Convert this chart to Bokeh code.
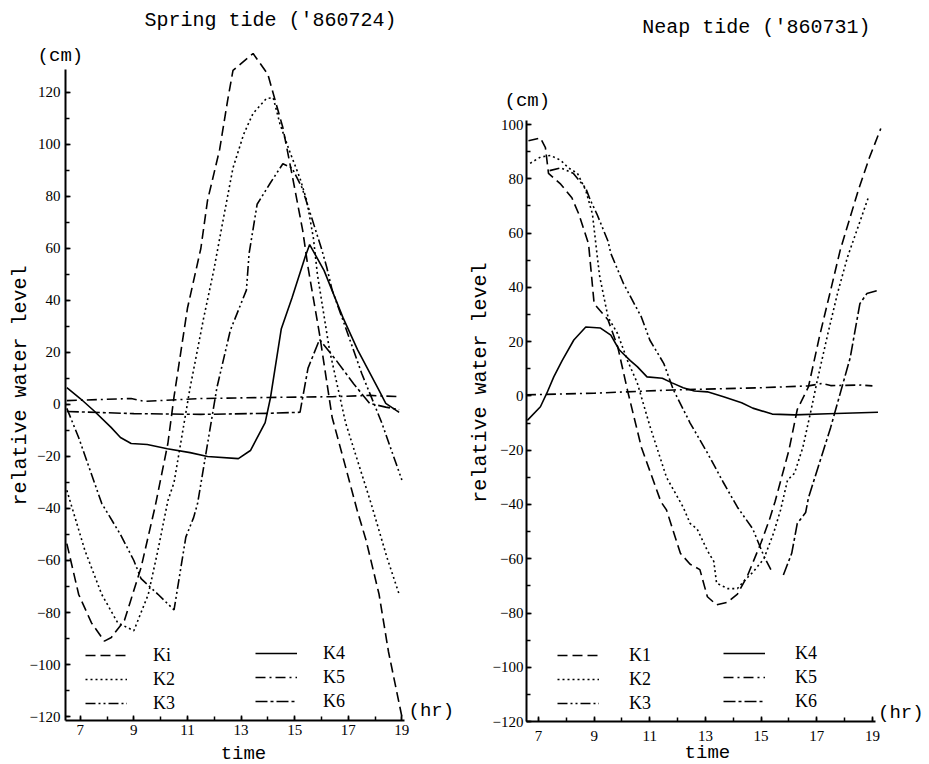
import math
from bokeh.plotting import figure
from bokeh.models import Legend, LegendItem, Label, FixedTicker, Range1d, LinearAxis
from bokeh.layouts import row
from bokeh.embed import file_html
from bokeh.resources import INLINE

# ---------------- data: spring tide ('860724) ----------------
sp_k1_t = [6.5, 6.94, 7.42, 7.9, 8.16, 8.65, 9.27, 9.8, 10.27, 10.5, 11.0, 11.5, 11.75, 12.2, 12.5, 12.7,
           13.45, 14.0, 14.56, 14.93, 15.3, 15.5, 15.93, 16.4, 16.9, 17.34, 17.66, 18.15, 18.5, 19.0]
sp_k1_v = [-53.5, -73, -84, -91, -89.6, -83, -62.7, -39, -15, 3, 37, 60, 78.5, 98, 117, 128.5,
           135, 127, 106.5, 87, 67, 52.7, 27, -5, -24, -41, -52, -73, -95, -120]

sp_k2_t = [6.5, 7.17, 7.8, 8.4, 8.8, 9.0, 9.54, 9.9, 10.27, 10.5, 11.1, 11.6, 11.98, 12.35, 12.7, 13.1,
           13.45, 13.95, 14.2, 14.45, 14.8, 15.2, 15.45, 15.7, 15.85, 16.3, 16.9, 17.85, 18.45, 18.9]
sp_k2_v = [-33, -56, -73, -84, -86, -87, -73, -56, -37, -30, 6.5, 33, 51.5, 72, 91, 104,
           112, 117.7, 118, 108, 97.7, 87, 78.5, 64, 50, 21, -7, -38, -59, -73]

sp_k3_t = [6.5, 6.94, 7.8, 8.5, 9.0, 9.27, 9.9, 10.5, 10.94, 11.23, 11.38, 12.1, 12.6, 13.2, 13.3, 13.6,
           14.08, 14.56, 14.9, 15.27, 15.63, 16.0, 16.2, 16.4, 16.9, 17.5, 18.25, 19.0]
sp_k3_v = [-1.5, -12.7, -38, -50, -60, -67, -73, -79, -51, -43.5, -38, 6.5, 28.5, 44, 58, 77,
           85, 92.6, 91, 83.5, 72, 60, 52.7, 44, 29.6, 12, -7, -29]

sp_k4_t = [6.5, 7.0, 7.5, 8.15, 8.5, 8.9, 9.5, 10.25, 11.1, 11.75, 12.9, 13.35, 13.9, 14.1, 14.5, 14.9,
           15.4, 15.56, 16.1, 16.8, 17.35, 18.15, 18.4, 18.9]
sp_k4_v = [6.5, 2.3, -2.3, -8.8, -12.7, -15, -15.4, -17, -18.5, -20, -20.8, -17.7, -7, 2.7, 29, 41,
           57, 61.5, 51.5, 33.5, 21, 5.4, 0.4, -3]

sp_k5_t = [6.5, 8.9, 9.4, 11.5, 14.0, 16.4, 17.8, 18.9]
sp_k5_v = [1.5, 2.3, 1.2, 2.3, 2.7, 3.0, 3.5, 3.0]

sp_k6_t = [6.5, 9.0, 11.5, 14.0, 15.2, 15.5, 15.93, 16.55, 17.2, 17.8, 18.4, 18.9]
sp_k6_v = [-2.7, -3.5, -3.8, -3.4, -3.0, 14, 25, 17, 8, 0.4, -1, -2]

# ---------------- data: neap tide ('860731) ----------------
np_k1_t = [6.64, 7.07, 7.25, 7.36, 7.8, 8.2, 8.45, 8.8, 9.0, 9.5, 9.85, 10.2, 10.7, 11.4, 11.6, 12.1,
           12.45, 12.8, 13.07, 13.4, 13.8, 14.15, 14.5, 15.0, 15.3, 15.5, 16.0, 16.3, 16.7, 17.1,
           17.5, 17.85, 18.5, 18.9, 19.3]
np_k1_v = [94, 95, 91.5, 82, 78, 73, 67, 56, 34, 28, 18, 2, -19, -39, -42, -58,
           -62, -64, -74, -77, -76, -73, -66.5, -54, -45.6, -39, -20, -5, 3.3, 22,
           39, 54, 76, 88, 98.5]

np_k2_t = [6.7, 7.07, 7.43, 7.8, 8.08, 8.4, 8.7, 8.94, 9.1, 9.2, 9.5, 9.84, 10.2, 10.55, 11.0, 11.6,
           12.2, 12.45, 12.7, 13.07, 13.3, 13.4, 13.8, 14.15, 14.4, 14.7, 15.1, 15.45, 15.7, 15.95,
           16.2, 16.5, 16.8, 17.0, 17.4, 17.75, 18.1, 18.85]
np_k2_v = [85.7, 88, 88.6, 86.8, 84, 82, 75.7, 67, 52.5, 44, 29, 23, 13, 4.8, -11, -30,
           -41, -47, -49, -57, -61, -69, -71, -71, -68, -65, -60, -50.5, -42, -31,
           -28.5, -19, -5, 4.8, 23, 38, 51, 73]

np_k3_t = [7.4, 7.8, 8.25, 8.7, 8.87, 9.1, 9.5, 9.6, 10.05, 10.7, 11.0, 11.5, 11.85, 12.45, 13.07, 13.65,
           14.15, 14.7, 15.1, 15.4]
np_k3_v = [83, 84, 82, 76.5, 72, 67, 57, 52.5, 41.5, 29, 20.6, 12, 2.2, -10, -21, -32,
           -41, -49, -59, -65]

np_k4_t = [6.6, 7.07, 7.3, 7.55, 7.85, 8.27, 8.7, 9.23, 9.6, 9.9, 10.3, 10.55, 10.9, 11.45, 11.8, 12.2,
           12.6, 13.07, 13.65, 14.3, 14.7, 15.4, 16.2, 17.4, 19.2]
np_k4_v = [-9, -4, 1, 7, 13, 20.6, 25.4, 25, 22.4, 17, 13, 10.8, 7, 6.5, 4.8, 3,
           1.8, 1.5, -0.3, -2.5, -4.5, -6.7, -7, -6.6, -6]

np_k5_t = [6.55, 9.0, 11.85, 15.0, 16.7, 17.2, 17.5, 18.6, 19.0]
np_k5_v = [0.4, 1.0, 2.2, 3.0, 3.7, 4.6, 3.8, 4.0, 3.7]

np_k6_t = [15.8, 16.1, 16.3, 16.6, 16.7, 17.5, 18.2, 18.55, 18.8, 19.25]
np_k6_v = [-66, -58, -47, -43, -37.6, -11.6, 14, 34, 37.7, 39]

# ---------------- ticks and labels ----------------
x_major = [7, 9, 11, 13, 15, 17, 19]
x_minor = list(range(7, 20))
sp_y_major = list(range(-120, 121, 20))
sp_y_minor = list(range(-120, 130, 10))
np_y_major = list(range(-120, 101, 20))
np_y_minor = list(range(-120, 101, 10))

sp_labels = ["Ki", "K2", "K3", "K4", "K5", "K6"]
np_labels = ["K1", "K2", "K3", "K4", "K5", "K6"]

SERIF = "Liberation Serif"
MONO = "Liberation Mono"
DASHES = ["10 5", "2 3", "10 3 2 3 2 3", "solid", "10 4 2 4", "12 3 3 3"]
H = 764


def ylab(v):
    return ("\u2212" + str(abs(v))) if v < 0 else str(v)


def make_panel(width, xr, yr, xloc, yloc, xb, yb, ymaj, ymin, xstand, ystand):
    p = figure(width=width, height=H, x_range=Range1d(*xr), y_range=Range1d(*yr),
               output_backend="svg", toolbar_location=None,
               x_axis_location=None, y_axis_location=None,
               min_border_left=0, min_border_right=0, min_border_top=0, min_border_bottom=0)
    p.xgrid.visible = False
    p.ygrid.visible = False
    p.outline_line_color = None
    p.background_fill_color = "white"
    p.border_fill_color = "white"
    xa = LinearAxis(ticker=FixedTicker(ticks=x_major, minor_ticks=x_minor),
                    fixed_location=xloc, bounds=xb)
    ya = LinearAxis(ticker=FixedTicker(ticks=ymaj, minor_ticks=ymin),
                    fixed_location=yloc, bounds=yb,
                    major_label_overrides={v: ylab(v) for v in ymaj})
    for ax in (xa, ya):
        ax.axis_line_width = 2
        ax.axis_line_color = "black"
        ax.major_tick_in = 5
        ax.major_tick_out = 0
        ax.minor_tick_in = 4
        ax.minor_tick_out = 0
        ax.major_tick_line_color = "black"
        ax.minor_tick_line_color = "black"
        ax.major_tick_line_width = 1.5
        ax.minor_tick_line_width = 1.5
        ax.major_label_text_font = SERIF
        ax.major_label_text_font_size = "15px"
        ax.major_label_text_color = "black"
    xa.major_label_standoff = xstand
    ya.major_label_standoff = ystand
    p.add_layout(xa, "below")
    p.add_layout(ya, "left")
    return p


def add_series(p, series):
    rs = []
    for (t, v), dash in zip(series, DASHES):
        rs.append(p.line(t, v, line_color="black", line_width=1.6, line_dash=dash))
    return rs


def add_legends(p, rs, labels, loc1, loc2, standoff):
    for labs, rr, loc in ((labels[:3], rs[:3], loc1), (labels[3:], rs[3:], loc2)):
        leg = Legend(items=[LegendItem(label=l, renderers=[r]) for l, r in zip(labs, rr)],
                     location=loc, orientation="vertical", padding=0, margin=0, spacing=0,
                     glyph_width=42, glyph_height=24, label_height=24, label_standoff=standoff,
                     label_text_font=SERIF, label_text_font_size="18px", label_text_color="black",
                     background_fill_alpha=0, border_line_alpha=0)
        p.add_layout(leg)


def lab(p, x, y, text, size="20px", angle=0.0, align="center"):
    p.add_layout(Label(x=x, y=y, text=text, text_font=MONO, text_font_size=size,
                       text_align=align, text_baseline="middle", angle=angle, text_color="black"))


# ---------------- left: spring ----------------
p1 = make_panel(465, (4.0246, 21.3754), (-138.46, 155.38), -121.5, 6.45,
                (6.45, 19.1), (-121.5, 129), sp_y_major, sp_y_minor, 5, 5)
r1 = add_series(p1, [(sp_k1_t, sp_k1_v), (sp_k2_t, sp_k2_v), (sp_k3_t, sp_k3_v),
                     (sp_k4_t, sp_k4_v), (sp_k5_t, sp_k5_v), (sp_k6_t, sp_k6_v)])
add_legends(p1, r1, sp_labels, (85, 49), (255, 51), 26)
lab(p1, 14.1, 147.7, "Spring tide ('860724)")
lab(p1, 6.26, 134.2, "(cm)", "19px")
lab(p1, 4.77, 7.3, "relative water level", "20px", math.pi / 2)
lab(p1, 13.09, -134.5, "time", "19px")
lab(p1, 19.25, -118, "(hr)", "19px", 0.0, "left")

# ---------------- right: neap ----------------
p2 = make_panel(464, (4.378, 21.051), (-135.81, 145.69), -120, 6.57,
                (6.57, 19.1), (-120, 101.3), np_y_major, np_y_minor, 9, 3)
r2 = add_series(p2, [(np_k1_t, np_k1_v), (np_k2_t, np_k2_v), (np_k3_t, np_k3_v),
                     (np_k4_t, np_k4_v), (np_k5_t, np_k5_v), (np_k6_t, np_k6_v)])
add_legends(p2, r2, np_labels, (92, 49), (258, 51), 30)
lab(p2, 14.83, 135.7, "Neap tide ('860731)")
lab(p2, 6.6, 108.8, "(cm)", "19px")
lab(p2, 4.92, 4.9, "relative water level", "20px", math.pi / 2)
lab(p2, 13.07, -131.7, "time", "19px")
lab(p2, 19.2, -116.9, "(hr)", "19px", 0.0, "left")

layout = row(p1, p2)
open("out.html", "w").write(file_html(layout, INLINE))
